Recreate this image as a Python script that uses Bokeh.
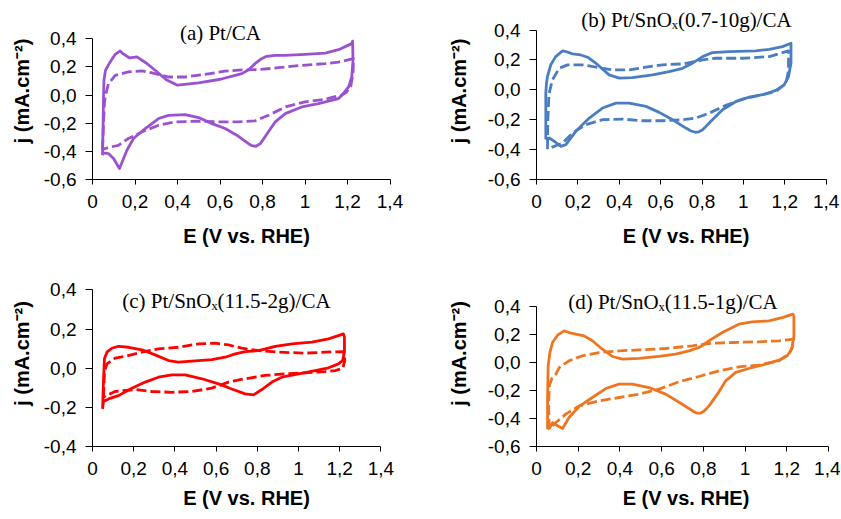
from bokeh.plotting import figure
from bokeh.layouts import row, column
from bokeh.models import Range1d, FixedTicker, Label
from bokeh.embed import file_html
from bokeh.resources import INLINE

# ---------------- data ----------------
X_TICKS = [0, 0.2, 0.4, 0.6, 0.8, 1.0, 1.2, 1.4]
X_TICK_LABELS = ["0", "0,2", "0,4", "0,6", "0,8", "1", "1,2", "1,4"]
Y_TICKS_6 = [-0.6, -0.4, -0.2, 0.0, 0.2, 0.4]
Y_TICK_LABELS_6 = ["-0,6", "-0,4", "-0,2", "0,0", "0,2", "0,4"]
Y_TICKS_4 = [-0.4, -0.2, 0.0, 0.2, 0.4]
Y_TICK_LABELS_4 = ["-0,4", "-0,2", "0,0", "0,2", "0,4"]

TITLES = ["(a) Pt/CA", "(b) Pt/SnOₓ(0.7-10g)/CA",
          "(c) Pt/SnOₓ(11.5-2g)/CA", "(d) Pt/SnOₓ(11.5-1g)/CA"]
X_LABEL = "E (V vs. RHE)"
Y_LABEL = "j (mA.cm⁻²)"

# (a) Pt/CA
A_solid_E = [0.047, 0.050, 0.052, 0.054, 0.061, 0.083, 0.107, 0.130, 0.145, 0.175, 0.209, 0.256,
             0.303, 0.350, 0.400, 0.499, 0.602, 0.703, 0.735, 0.765, 0.795, 0.820, 0.860, 0.907,
             1.000, 1.095, 1.158, 1.220, 1.224, 1.226, 1.220, 1.205, 1.173, 1.158, 1.063, 0.985,
             0.907, 0.860, 0.835, 0.812, 0.790, 0.769, 0.750, 0.734, 0.687, 0.624, 0.562, 0.499,
             0.436, 0.358, 0.311, 0.248, 0.193, 0.162, 0.127, 0.099, 0.075, 0.052, 0.047]
A_solid_j = [-0.427, -0.200, 0.000, 0.105, 0.175, 0.235, 0.289, 0.313, 0.292, 0.263, 0.271, 0.224,
             0.165, 0.106, 0.070, 0.086, 0.112, 0.152, 0.180, 0.223, 0.258, 0.275, 0.281, 0.282,
             0.289, 0.298, 0.322, 0.365, 0.383, 0.246, 0.128, 0.057, -0.002, -0.025, -0.061, -0.085,
             -0.132, -0.191, -0.245, -0.297, -0.345, -0.364, -0.360, -0.345, -0.293, -0.238, -0.203, -0.160,
             -0.139, -0.144, -0.167, -0.238, -0.309, -0.392, -0.522, -0.451, -0.416, -0.411, -0.427]
A_dash_E = [0.047, 0.052, 0.056, 0.060, 0.075, 0.107, 0.169, 0.232, 0.295, 0.358, 0.436, 0.530,
            0.624, 0.703, 0.781, 0.875, 0.985, 1.095, 1.158, 1.228, 1.226, 1.215, 1.195, 1.173,
            1.095, 1.000, 0.907, 0.828, 0.765, 0.687, 0.593, 0.499, 0.389, 0.311, 0.232, 0.169,
            0.122, 0.075, 0.047]
A_dash_j = [-0.387, -0.200, -0.060, -0.014, 0.081, 0.140, 0.164, 0.171, 0.152, 0.128, 0.128, 0.147,
            0.170, 0.178, 0.180, 0.194, 0.211, 0.223, 0.234, 0.258, 0.150, 0.060, 0.020, 0.000,
            -0.030, -0.049, -0.085, -0.144, -0.184, -0.191, -0.191, -0.186, -0.191, -0.215, -0.262, -0.309,
            -0.357, -0.373, -0.387]

# (b) Pt/SnOx(0.7-10g)/CA
B_solid_E = [0.045, 0.045, 0.048, 0.053, 0.069, 0.093, 0.126, 0.142, 0.174, 0.214, 0.247, 0.287,
             0.351, 0.400, 0.464, 0.561, 0.641, 0.706, 0.754, 0.803, 0.851, 0.931, 1.060, 1.125,
             1.189, 1.230, 1.230, 1.218, 1.197, 1.157, 1.093, 1.028, 0.964, 0.899, 0.843, 0.803,
             0.785, 0.767, 0.745, 0.722, 0.658, 0.593, 0.529, 0.448, 0.384, 0.319, 0.255, 0.190,
             0.142, 0.118, 0.085, 0.061, 0.045]
B_solid_j = [-0.333, -0.022, 0.040, 0.089, 0.167, 0.222, 0.260, 0.256, 0.240, 0.233, 0.218, 0.178,
             0.100, 0.078, 0.082, 0.100, 0.122, 0.144, 0.178, 0.222, 0.249, 0.256, 0.260, 0.271,
             0.289, 0.311, 0.178, 0.089, 0.033, -0.004, -0.033, -0.049, -0.078, -0.133, -0.211, -0.267,
             -0.281, -0.284, -0.274, -0.256, -0.200, -0.151, -0.111, -0.089, -0.089, -0.122, -0.189, -0.278,
             -0.367, -0.378, -0.344, -0.322, -0.333]
B_dash_E = [0.053, 0.055, 0.060, 0.077, 0.110, 0.150, 0.222, 0.287, 0.367, 0.448, 0.529, 0.609,
            0.706, 0.803, 0.867, 0.996, 1.125, 1.218, 1.218, 1.206, 1.157, 1.093, 0.996, 0.915,
            0.835, 0.770, 0.706, 0.609, 0.513, 0.416, 0.319, 0.239, 0.174, 0.126, 0.053]
B_dash_j = [-0.396, -0.200, -0.030, 0.067, 0.144, 0.167, 0.167, 0.151, 0.133, 0.133, 0.151, 0.167,
            0.173, 0.200, 0.211, 0.211, 0.222, 0.260, 0.130, 0.044, -0.011, -0.033, -0.062, -0.104,
            -0.156, -0.189, -0.200, -0.207, -0.207, -0.196, -0.200, -0.233, -0.289, -0.356, -0.396]

# (c) Pt/SnOx(11.5-2g)/CA
C_solid_E = [0.049, 0.053, 0.058, 0.070, 0.094, 0.126, 0.175, 0.240, 0.304, 0.369, 0.417, 0.498,
             0.579, 0.644, 0.693, 0.741, 0.806, 0.887, 0.968, 1.065, 1.146, 1.218, 1.223, 1.223,
             1.214, 1.194, 1.146, 1.081, 1.000, 0.919, 0.871, 0.822, 0.782, 0.741, 0.676, 0.612,
             0.531, 0.450, 0.385, 0.320, 0.256, 0.191, 0.126, 0.078, 0.053, 0.049]
C_solid_j = [-0.208, -0.071, 0.048, 0.082, 0.102, 0.112, 0.107, 0.094, 0.068, 0.039, 0.031, 0.037,
             0.044, 0.056, 0.073, 0.085, 0.090, 0.111, 0.124, 0.133, 0.150, 0.175, 0.160, 0.082,
             0.039, 0.022, 0.002, -0.012, -0.029, -0.046, -0.071, -0.109, -0.136, -0.131, -0.106, -0.080,
             -0.054, -0.034, -0.034, -0.046, -0.071, -0.102, -0.140, -0.157, -0.170, -0.208]
C_dash_E = [0.053, 0.056, 0.058, 0.070, 0.110, 0.159, 0.240, 0.320, 0.417, 0.515, 0.595, 0.660,
            0.725, 0.806, 0.903, 1.032, 1.129, 1.218, 1.225, 1.215, 1.178, 1.129, 1.032, 0.935,
            0.838, 0.741, 0.660, 0.579, 0.482, 0.385, 0.288, 0.207, 0.110, 0.053]
C_dash_j = [-0.148, -0.080, -0.020, 0.022, 0.051, 0.061, 0.082, 0.099, 0.107, 0.124, 0.128, 0.119,
            0.102, 0.090, 0.082, 0.077, 0.082, 0.085, 0.040, 0.000, -0.012, -0.017, -0.024, -0.029,
            -0.037, -0.054, -0.071, -0.102, -0.119, -0.123, -0.119, -0.109, -0.119, -0.148]

# (d) Pt/SnOx(11.5-1g)/CA
D_solid_E = [0.053, 0.053, 0.056, 0.064, 0.077, 0.101, 0.132, 0.156, 0.188, 0.228, 0.268, 0.316,
             0.364, 0.412, 0.492, 0.587, 0.667, 0.731, 0.779, 0.827, 0.891, 0.970, 1.034, 1.114,
             1.178, 1.229, 1.234, 1.234, 1.223, 1.202, 1.162, 1.098, 1.018, 0.955, 0.907, 0.867,
             0.827, 0.805, 0.787, 0.770, 0.755, 0.699, 0.619, 0.539, 0.460, 0.396, 0.332, 0.268,
             0.204, 0.156, 0.125, 0.101, 0.077, 0.064, 0.053]
D_solid_j = [-0.476, -0.262, -0.024, 0.071, 0.143, 0.195, 0.226, 0.214, 0.202, 0.190, 0.155, 0.095,
             0.043, 0.024, 0.029, 0.043, 0.060, 0.083, 0.107, 0.155, 0.214, 0.274, 0.290, 0.298,
             0.321, 0.345, 0.330, 0.190, 0.095, 0.048, 0.017, -0.012, -0.043, -0.071, -0.131, -0.226,
             -0.310, -0.345, -0.362, -0.362, -0.352, -0.298, -0.226, -0.179, -0.155, -0.155, -0.186, -0.250,
             -0.314, -0.393, -0.471, -0.452, -0.429, -0.464, -0.476]
D_dash_E = [0.061, 0.058, 0.062, 0.075, 0.093, 0.109, 0.156, 0.220, 0.300, 0.396, 0.492, 0.619,
            0.747, 0.843, 0.939, 1.066, 1.162, 1.234, 1.234, 1.226, 1.210, 1.162, 1.066, 0.970,
            0.875, 0.779, 0.683, 0.587, 0.492, 0.396, 0.300, 0.204, 0.140, 0.093, 0.061]
D_dash_j = [-0.476, -0.300, -0.160, -0.110, -0.083, -0.036, 0.012, 0.048, 0.071, 0.083, 0.090, 0.100,
            0.119, 0.138, 0.143, 0.148, 0.155, 0.167, 0.167, 0.107, 0.060, 0.012, -0.019, -0.031,
            -0.060, -0.100, -0.138, -0.190, -0.226, -0.250, -0.274, -0.310, -0.369, -0.429, -0.476]

COLORS = ["#9A52D1", "#4A7EC0", "#FF0000", "#ED7622"]

# ---------------- layout (pixels) ----------------
LEFT_W, RIGHT_W = 440, 400
TOP_H, BOT_H = 258, 260


def make_panel(width, height, left, right, top, bottom, px_x, px_y, ymin, yticks, ylabels,
               sE, sj, dE, dj, color, title, tx, ty, xlab_standoff, ylab_standoff):
    fw = width - left - right
    fh = height - top - bottom
    p = figure(width=width, height=height, output_backend="svg", toolbar_location=None,
               x_range=Range1d(0, fw / px_x), y_range=Range1d(ymin, ymin + fh / px_y))
    p.min_border_left = left
    p.min_border_right = right
    p.min_border_top = top
    p.min_border_bottom = bottom
    p.outline_line_color = None
    p.grid.visible = False
    p.background_fill_color = "white"
    p.border_fill_color = "white"

    p.xaxis.ticker = FixedTicker(ticks=X_TICKS)
    p.xaxis.major_label_overrides = dict(zip(X_TICKS, X_TICK_LABELS))
    p.xaxis.bounds = (X_TICKS[0], X_TICKS[-1])
    p.yaxis.ticker = FixedTicker(ticks=yticks)
    p.yaxis.major_label_overrides = dict(zip(yticks, ylabels))
    p.yaxis.bounds = (yticks[0], yticks[-1])
    for ax in (p.xaxis, p.yaxis):
        ax.axis_line_color = "black"
        ax.axis_line_width = 1
        ax.major_tick_line_color = "black"
        ax.major_tick_in = 0
        ax.minor_tick_out = 0
        ax.minor_tick_in = 0
        ax.major_label_text_font = "Liberation Sans"
        ax.major_label_text_font_size = "19px"
        ax.major_label_text_color = "black"
        ax.axis_label_text_font = "Liberation Sans"
        ax.axis_label_text_font_size = "20px"
        ax.axis_label_text_font_style = "bold"
        ax.axis_label_text_color = "black"
    p.xaxis.major_tick_out = 5
    p.yaxis.major_tick_out = 7
    p.xaxis.axis_label = X_LABEL
    p.yaxis.axis_label = Y_LABEL
    p.xaxis.major_label_standoff = 10
    p.xaxis.axis_label_standoff = xlab_standoff
    p.yaxis.major_label_standoff = 9
    p.yaxis.axis_label_standoff = ylab_standoff

    p.line(sE, sj, line_color=color, line_width=2.8, line_join="round")
    p.line(dE, dj, line_color=color, line_width=2.8, line_dash="10 4", line_join="round")

    p.add_layout(Label(x=tx, y=ty, text=title, text_align="center", text_baseline="middle",
                       text_font="Liberation Serif", text_font_size="21px", text_color="black"))
    return p


pa = make_panel(LEFT_W, TOP_H, 92, 40, 2, 79, 212.5, 140.8, -0.6, Y_TICKS_6, Y_TICK_LABELS_6,
                A_solid_E, A_solid_j, A_dash_E, A_dash_j, COLORS[0], TITLES[0], 0.602, 0.437, 14, 8)
pb = make_panel(RIGHT_W, TOP_H, 96, 5, 2, 79, 206.9, 149.5, -0.6, Y_TICKS_6, Y_TICK_LABELS_6,
                B_solid_E, B_solid_j, B_dash_E, B_dash_j, COLORS[1], TITLES[1], 0.725, 0.464, 14, 15)
pc = make_panel(LEFT_W, BOT_H, 92, 40, 2, 72, 206.0, 195.75, -0.4, Y_TICKS_4, Y_TICK_LABELS_4,
                C_solid_E, C_solid_j, C_dash_E, C_dash_j, COLORS[2], TITLES[2], 0.650, 0.341, 9, 8)
pd = make_panel(RIGHT_W, BOT_H, 96, 5, 2, 72, 208.6, 140.0, -0.6, Y_TICKS_6, Y_TICK_LABELS_6,
                D_solid_E, D_solid_j, D_dash_E, D_dash_j, COLORS[3], TITLES[3], 0.654, 0.432, 9, 15)

layout = column(row(pa, pb), row(pc, pd))
open("out.html", "w").write(file_html(layout, INLINE))
